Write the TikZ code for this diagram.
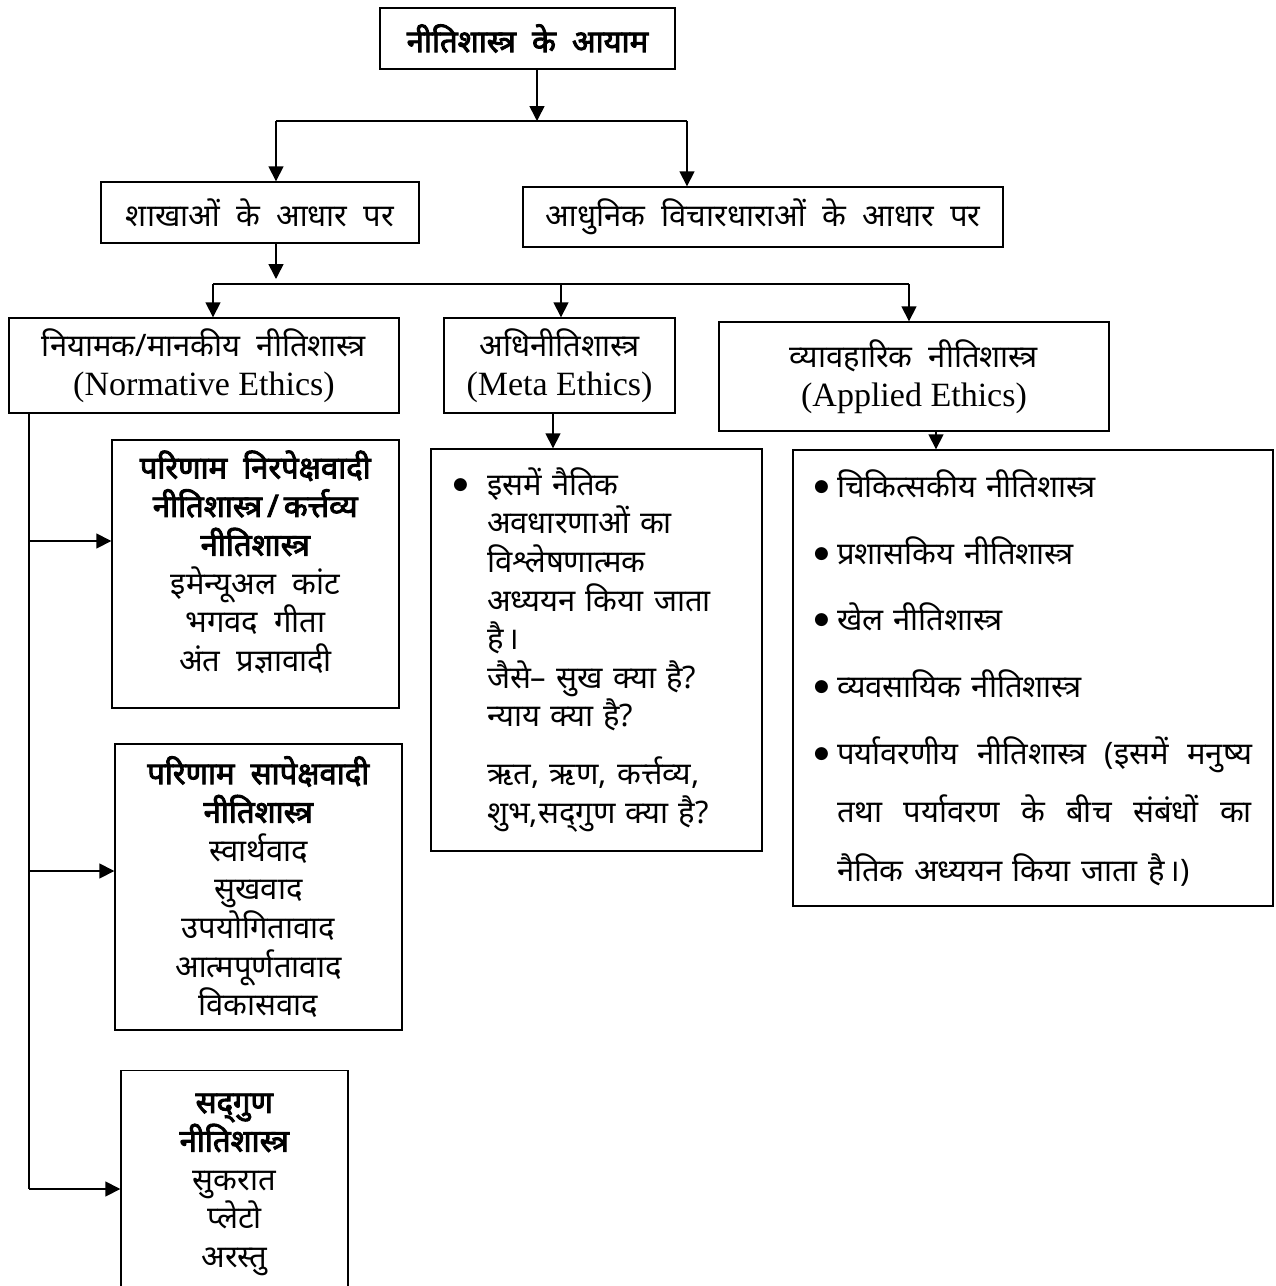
\documentclass[tikz,border=0pt]{standalone}
\usepackage{fontspec}
\newfontfamily\hindi[Script=Devanagari, WordSpace=2, BoldFont={Noto Sans}, BoldFeatures={FakeBold=3}]{Noto Sans}
\newfontfamily\symf{DejaVu Sans}
\newfontfamily\latnf{Liberation Serif}
\usetikzlibrary{arrows.meta}
\newcommand{\bul}{{\symf\fontsize{17}{17}\selectfont\raisebox{6pt}{●}}}
\newcommand{\latn}{\latnf\fontsize{34}{40}\selectfont}
\begin{document}
\begin{tikzpicture}[x=1pt,y=-1pt,
  font=\hindi\fontsize{31}{38.6}\selectfont,
  box/.style={draw, line width=1.4pt, inner sep=0pt, align=center},
  arr/.style={-{Triangle[length=15pt,width=15pt]}, line width=1.6pt},
  link/.style={line width=2pt}]
\fill[white] (0,0) rectangle (1276,1286);
\useasboundingbox (0,0) rectangle (1276,1286);

\node[box, minimum width=295pt, minimum height=61pt] (top) at (527.5,38.5) {\bfseries नीतिशास्त्र के आयाम};
\node[box, minimum width=318pt, minimum height=61pt] (shakha) at (260,212.5) {शाखाओं के आधार पर};
\node[box, minimum width=480pt, minimum height=60pt] (adhunik) at (763,217) {आधुनिक विचारधाराओं के आधार पर};

\node[box, minimum width=390pt, minimum height=95pt] (norm) at (204,365.5) {नियामक/मानकीय नीतिशास्त्र\\{\latn (Normative Ethics)}};
\node[box, minimum width=231pt, minimum height=95pt] (meta) at (559.5,365.5) {अधिनीतिशास्त्र\\{\latn (Meta Ethics)}};
\node[box, minimum width=390pt, minimum height=109pt] (appl) at (914,376.5) {व्यावहारिक नीतिशास्त्र\\{\latn (Applied Ethics)}};

\node[box, minimum width=287pt, minimum height=268pt] (b1) at (255.5,574) {\textbf{परिणाम निरपेक्षवादी}\\\textbf{नीतिशास्त्र\,/\,कर्त्तव्य}\\\textbf{नीतिशास्त्र}\\इमेन्यूअल कांट\\भगवद गीता\\अंत प्रज्ञावादी\rule[-26pt]{0pt}{1pt}};
\node[box, minimum width=287pt, minimum height=286pt] (b2) at (258.5,887) {\textbf{परिणाम सापेक्षवादी}\\\textbf{नीतिशास्त्र}\\स्वार्थवाद\\सुखवाद\\उपयोगितावाद\\आत्मपूर्णतावाद\\विकासवाद};
\node[box, minimum width=227pt, inner ysep=23pt, anchor=north] (b3) at (234.5,1070) {\textbf{सद्^^^^200cगुण}\\\textbf{नीतिशास्त्र}\\सुकरात\\प्लेटो\\अरस्तु\\\mbox{}\\\mbox{}};

\node[box, minimum width=331pt, minimum height=402pt, text width=287pt, align=left] (metac) at (596.5,650) {%
\makebox[34pt][l]{\bul}इसमें नैतिक\\
\hspace*{34pt}अवधारणाओं का\\
\hspace*{34pt}विश्लेषणात्मक\\
\hspace*{34pt}अध्ययन किया जाता\\
\hspace*{34pt}है\kern4pt।\\
\hspace*{34pt}जैसे– सुख क्या है?\\
\hspace*{34pt}न्याय क्या है?\\[19pt]
\hspace*{34pt}ऋत, ऋण, कर्त्तव्य,\\
\hspace*{34pt}शुभ,सद्^^^^200cगुण क्या है?};

\node[box, minimum width=480pt, minimum height=456pt, text width=438pt, align=left] (applc) at (1033,678) {%
\makebox[23pt][l]{\bul}चिकित्सकीय नीतिशास्त्र\\[28pt]
\makebox[23pt][l]{\bul}प्रशासकिय नीतिशास्त्र\\[28pt]
\makebox[23pt][l]{\bul}खेल नीतिशास्त्र\\[28pt]
\makebox[23pt][l]{\bul}व्यवसायिक नीतिशास्त्र\\[28pt]
\makebox[23pt][l]{\bul}\makebox[415pt][l]{पर्यावरणीय\hfill नीतिशास्त्र\hfill (इसमें\hfill मनुष्य}\\[20pt]
\hspace*{23pt}\makebox[415pt][l]{तथा\hfill पर्यावरण\hfill के\hfill बीच\hfill संबंधों\hfill का}\\[20pt]
\hspace*{23pt}नैतिक अध्ययन किया जाता है\kern4pt।)};

% connectors
\coordinate (j1) at (537,121);
\coordinate (j1l) at (276,121);
\coordinate (j1r) at (687,121);
\draw[arr] (top.south -| j1) -- (j1);
\draw[link] (j1l) -- (j1r);
\draw[arr] (j1l) -- (shakha.north -| j1l);
\draw[arr] (j1r) -- (adhunik.north -| j1r);

\coordinate (j2) at (276,284);
\coordinate (j2t) at (276,279);
\coordinate (j2l) at (213,284);
\coordinate (j2m) at (561,284);
\coordinate (j2r) at (909,284);
\draw[arr] (shakha.south -| j2) -- (j2t);
\draw[link] (j2l) -- (j2r);
\draw[arr] (j2l) -- (norm.north -| j2l);
\draw[arr] (j2m) -- (meta.north -| j2m);
\draw[arr] (j2r) -- (appl.north -| j2r);

\coordinate (c1) at (553,0);
\draw[arr] (meta.south -| c1) -- (metac.north -| c1);
\coordinate (c2) at (936,0);
\draw[arr] (appl.south -| c2) -- (applc.north -| c2);

\coordinate (t) at (29,1189);
\coordinate (t1) at (29,541);
\coordinate (t2) at (29,871);
\draw[line width=1.6pt] (norm.south -| t) -- (t);
\draw[arr] (t1) -- (t1 -| b1.west);
\draw[arr] (t2) -- (t2 -| b2.west);
\draw[arr] (t) -- (t -| b3.west);
\end{tikzpicture}
\end{document}
